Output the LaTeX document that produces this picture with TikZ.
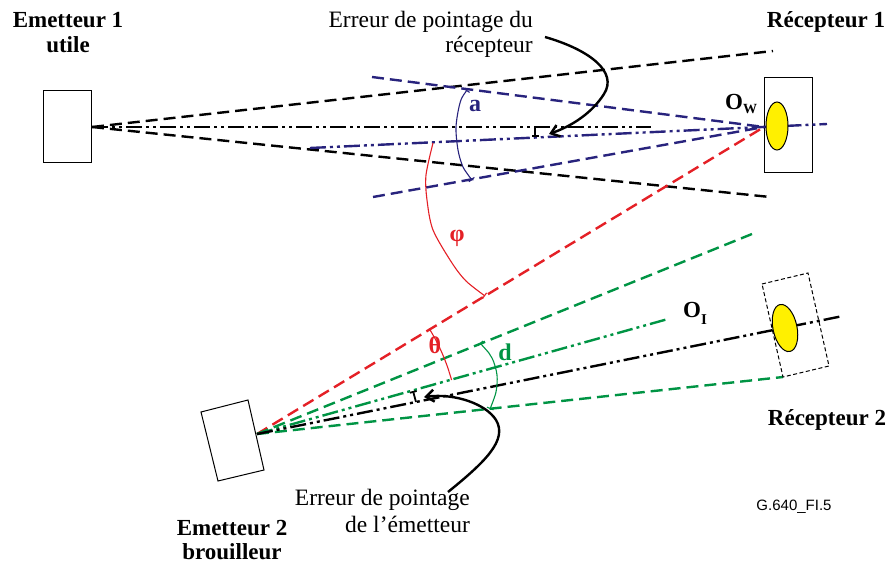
\documentclass[tikz,border=0pt]{standalone}
\usepackage{fontspec}
\setmainfont{Liberation Serif}
\newfontfamily\arialfont{Liberation Sans}
\usetikzlibrary{arrows.meta}
\definecolor{navy}{RGB}{40,35,125}
\definecolor{rred}{RGB}{228,32,38}
\definecolor{ggreen}{RGB}{0,148,68}
\definecolor{yel}{RGB}{255,240,0}
\begin{document}
\begin{tikzpicture}[x=1pt,y=-1pt,
  dsh/.style={dash pattern=on 12pt off 6pt, line width=2.4pt},
  ddot/.style={dash pattern=on 16pt off 4pt on 3pt off 4pt on 3pt off 4pt, line width=2.4pt},
  boxst/.style={draw, line width=1pt},
  arcst/.style={line width=1.1pt},
  bl/.style={font=\fontsize{23}{25}\selectfont\bfseries, inner sep=0pt, anchor=base},
  rl/.style={font=\fontsize{23.5}{25}\selectfont, inner sep=0pt, anchor=base east},
  sym/.style={font=\fontsize{24}{25}\selectfont\bfseries, inner sep=0pt},
  errarrow/.style={line width=2.4pt, -{Straight Barb[length=8pt,width=12pt]}},
  tick/.style={line width=1.8pt}
]
\useasboundingbox (0,0) rectangle (889,564);
% coordinates
\coordinate (E1) at (92,127);
\coordinate (E1up) at (773,51);
\coordinate (E1lo) at (770,197);
\coordinate (E1ax) at (651,127);
\coordinate (OW) at (764,127);
\coordinate (BLup) at (372,77);
\coordinate (BLlo) at (373,197);
\coordinate (BLax0) at (310,148);
\coordinate (BLax1) at (827,124);
\coordinate (E2) at (257,434);
\coordinate (Gup) at (752,234);
\coordinate (Glo) at (783,377);
\coordinate (Gax) at (668,319);
\coordinate (R2ax) at (843,316);
\coordinate (R2a) at (762,284);
\coordinate (R2b) at (808,273);
\coordinate (R2c) at (829,366);
\coordinate (E2a) at (201,412);
\coordinate (E2b) at (248,400);
\coordinate (E2c) at (264,470);
\coordinate (E2d) at (218,481);
% emitter 1 box
\draw[boxst] (43,91) rectangle (91,163);
% receiver 1 box
\draw[boxst] (764,78) rectangle (812,173);
% black lines from emitter 1
\draw[dsh] (E1) -- (E1up);
\draw[dsh] (E1) -- (E1lo);
\draw[ddot] (E1) -- (E1ax);
% blue lines
\draw[dsh, navy] (BLup) -- (OW);
\draw[dsh, navy] (BLlo) -- (OW);
\draw[ddot, navy] (BLax0) -- (BLax1);
% red
\draw[dsh, rred] (E2) -- (OW);
% green
\draw[dsh, ggreen] (E2) -- (Gup);
\draw[dsh, ggreen] (E2) -- (Glo);
\draw[ddot, ggreen] (E2) -- (Gax);
\draw[ddot] (E2) -- (R2ax);
% receiver 2 box (dashed)
\draw[dash pattern=on 4pt off 2.5pt, line width=1pt] (R2a) -- (R2b) -- (R2c) -- (Glo) -- cycle;
% emitter 2 box
\draw[boxst] (E2a) -- (E2b) -- (E2c) -- (E2d) -- cycle;
% ellipses
\draw[fill=yel, line width=1pt] (777,126) ellipse [x radius=11, y radius=24];
\draw[fill=yel, line width=1pt, rotate around={12:(785,328)}] (785,328) ellipse [x radius=12, y radius=24];
% arcs
\draw[arcst, navy, {Bar[width=7pt]}-{Bar[width=7pt]}] plot[smooth] coordinates {(467,90) (460,103) (456,127) (458,150) (463,167) (472,180)};
\draw[arcst, rred, -{Bar[width=7pt]}] plot[smooth] coordinates {(433,143) (426,175) (427,200) (433,230) (452,263) (466,281) (485,296)};
\draw[arcst, rred] plot[smooth] coordinates {(429.2,328.5) (436.2,340.7) (442.2,353.4) (447.4,366.6) (451.6,380)};
\draw[arcst, ggreen, {Bar[width=7pt]}-{Bar[width=7pt]}] plot[smooth] coordinates {(480,343) (492,358) (497,375) (496,392) (490,409)};
% pointing error ticks
\draw[tick, -{Bar[width=7pt]}] (535,128) -- (535,137);
\draw[tick, {Bar[width=7pt]}-] (413,391) -- (416,402);
% error arrows
\draw[errarrow] (545,37) .. controls (590,50) and (618,72) .. (604,94) .. controls (592,113) and (572,126) .. (549,134);
\draw[errarrow] (448,492) .. controls (485,462) and (508,440) .. (496,420) .. controls (486,404) and (455,393) .. (424,397);
% labels
\node[bl] (t1a) at (68,28) {Emetteur 1};
\node[bl] (t1b) at (68,53) {utile};
\node[bl] (tr1) at (826,28) {Récepteur 1};
\node[bl] (tr2) at (827,425) {Récepteur 2};
\node[bl] (t2a) at (232,535) {Emetteur 2};
\node[bl] (t2b) at (232,559) {brouilleur};
\node[rl] (err1a) at (533,28) {Erreur de pointage du};
\node[rl] (err1b) at (533,53) {récepteur};
\node[rl] (err2a) at (470,505) {Erreur de pointage};
\node[rl] (err2b) at (470,532) {de l{\char"0027}émetteur};
\node[bl, anchor=base west] (ow) at (725,110) {O\raisebox{-4pt}{\fontsize{14}{14}\selectfont W}};
\node[bl, anchor=base west] (oi) at (683,317) {O\raisebox{-7pt}{\fontsize{15}{15}\selectfont I}};
\node[sym, navy] (la) at (475,106) {a};
\node[sym, rred] (lphi) at (457,238) {φ};
\node[sym, rred] (lth) at (435,345) {θ};
\node[sym, ggreen] (ld) at (505,352) {d};
\node[font=\arialfont\fontsize{15}{15}\selectfont, inner sep=0pt, anchor=base] (ref) at (794,510) {G.640\_FI.5};
\end{tikzpicture}
\end{document}
